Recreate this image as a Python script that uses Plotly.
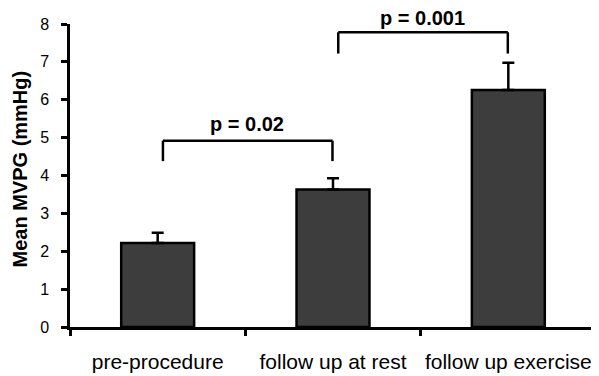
import plotly.graph_objects as go

categories = ["pre-procedure", "follow up at rest", "follow up exercise"]
mean_mvpg = [2.22, 3.63, 6.26]
sd_upper = [0.27, 0.30, 0.72]

comparisons = [(0, 1), (1, 2)]
p_labels = ["p = 0.02", "p = 0.001"]
bracket_top = [4.92, 7.78]
bracket_foot = [4.38, 7.22]
label_y = [5.37, 8.16]

y_ticks = list(range(0, 9))
y_max = 8

xpos = list(range(len(categories)))

fig = go.Figure()
fig.add_trace(go.Bar(
    x=xpos, y=mean_mvpg, width=0.416,
    marker=dict(color="#3d3d3d", line=dict(color="black", width=2.5)),
    error_y=dict(type="data", array=sd_upper, arrayminus=[0] * len(sd_upper),
                 symmetric=False, color="black", thickness=2.5, width=6),
    showlegend=False,
))

FONT = "Liberation Sans, Arial"
shapes = []
annotations = []
for (a, b), lab, top, foot, ly in zip(comparisons, p_labels, bracket_top, bracket_foot, label_y):
    x0 = a + 0.03
    x1 = b - 0.003
    line = dict(color="black", width=2.5)
    shapes.append(dict(type="line", xref="x", yref="y", x0=x0, x1=x0, y0=foot, y1=top, line=line))
    shapes.append(dict(type="line", xref="x", yref="y", x0=x0, x1=x1, y0=top, y1=top, line=line))
    shapes.append(dict(type="line", xref="x", yref="y", x0=x1, x1=x1, y0=top, y1=foot, line=line))
    annotations.append(dict(x=(a + b) / 2 + 0.01, y=ly / y_max, xref="x", yref="paper",
                            text="<b>" + lab + "</b>",
                            showarrow=False, font=dict(size=20, color="black", family=FONT),
                            xanchor="center", yanchor="middle"))

annotations.append(dict(x=0, y=0.5, xref="paper", yref="paper", xshift=-51, yshift=6,
                        text="<b>Mean MVPG (mmHg)</b>", textangle=-90, showarrow=False,
                        font=dict(size=20, color="black", family=FONT),
                        xanchor="center", yanchor="middle"))

fig.update_layout(
    width=591, height=368,
    margin=dict(l=62, r=3, t=16, b=44),
    paper_bgcolor="white", plot_bgcolor="white",
    font=dict(family=FONT, color="black"),
    shapes=shapes, annotations=annotations,
    xaxis=dict(
        range=[-0.5, 2.5], tickmode="array", tickvals=xpos, ticktext=categories,
        ticks="", showgrid=False, zeroline=False,
        showline=True, linecolor="black", linewidth=2.5,
        tickfont=dict(size=21, color="black"), ticklabelstandoff=14,
        minor=dict(tickmode="array", tickvals=[-0.5, 0.5, 1.5, 2.5], ticks="outside",
                   ticklen=6, tickwidth=2.5, tickcolor="black", showgrid=False),
    ),
    yaxis=dict(
        range=[0, y_max], tickmode="array", tickvals=y_ticks, ticks="outside",
        ticklen=6, tickwidth=2.5, tickcolor="black", showgrid=False, zeroline=False,
        showline=True, linecolor="black", linewidth=2.5,
        tickfont=dict(size=16, color="black"), ticklabelstandoff=9,
    ),
)

fig.write_html("out.html")
